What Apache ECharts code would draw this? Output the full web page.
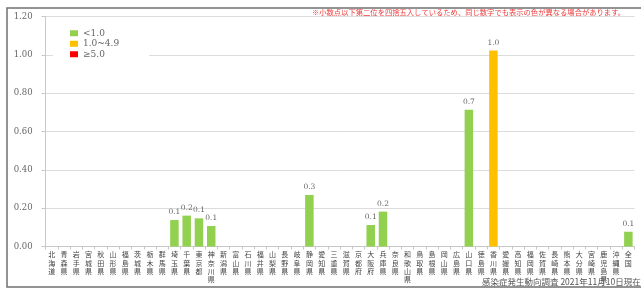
<!DOCTYPE html>
<html><head><meta charset="utf-8">
<script src="https://cdn.jsdelivr.net/npm/echarts@6/dist/echarts.min.js"></script>
<style>html,body{margin:0;padding:0;background:#fff}#c{width:641px;height:289px}</style>
</head><body><div id="c"></div>
<script>
const categories = ["北海道","青森県","岩手県","宮城県","秋田県","山形県","福島県","茨城県","栃木県","群馬県","埼玉県","千葉県","東京都","神奈川県","新潟県","富山県","石川県","福井県","山梨県","長野県","岐阜県","静岡県","愛知県","三重県","滋賀県","京都府","大阪府","兵庫県","奈良県","和歌山県","鳥取県","島根県","岡山県","広島県","山口県","徳島県","香川県","愛媛県","高知県","福岡県","佐賀県","長崎県","熊本県","大分県","宮崎県","鹿児島県","沖縄県","全国"];
const values = [0,0,0,0,0,0,0,0,0,0,0.138,0.161,0.147,0.107,0,0,0,0,0,0,0,0.269,0,0,0,0,0.112,0.182,0,0,0,0,0,0,0.713,0,1.022,0,0,0,0,0,0,0,0,0,0,0.077];
const levelNames = ["<1.0","1.0~4.9","≥5.0"];
const levelColors = ["#92D050","#FFC000","#FF0000"];
const levelMin = [0,1.0,5.0];
const levelMax = [1.0,5.0,Infinity];
const yTicks = {min:0,max:1.2,interval:0.2};
const noteText = "※小数点以下第二位を四捨五入しているため、同じ数字でも表示の色が異なる場合があります。";
const sourceText = "感染症発生動向調査 2021年11月10日現在";

const chart = echarts.init(document.getElementById('c'), null, {renderer:'canvas'});
const numFont = "'DejaVu Serif', serif";
const jpFont = "'Noto Sans CJK JP', sans-serif";
const series = levelNames.map((name,i)=>({
  name, type:'bar', barGap:'-100%', barWidth:8.5,
  itemStyle:{color:levelColors[i]},
  data: values.map(v => (v>0 && v>=levelMin[i] && v<levelMax[i]) ? v : null),
  label:{show:true, position:'top', distance:4, fontSize:7.5, color:'#666', fontFamily:numFont,
    formatter:p=>p.value==null?'':Number(p.value).toFixed(1)}
}));
chart.setOption({
  animation:false,
  backgroundColor:'#fff',
  grid:{left:45.6, right:6.5, top:16.5, bottom:42.5},
  legend:{
    data:levelNames, orient:'vertical', left:53, top:23,
    backgroundColor:'#fff', padding:[5,30,5,17],
    itemWidth:8, itemHeight:6, itemGap:0,
    icon:'rect',
    textStyle:{fontSize:9, lineHeight:10.5, color:'#666', fontFamily:numFont, padding:[0,0,0,0]}
  },
  xAxis:{
    type:'category', data:categories,
    axisLine:{lineStyle:{color:'#c8c8c8'}},
    axisTick:{show:true, length:3, lineStyle:{color:'#c8c8c8'}},
    axisLabel:{interval:0, margin:4, fontSize:7, lineHeight:8.3, color:'#444', fontFamily:jpFont,
      verticalAlign:'top',
      formatter:v=>v.split('').join('\n')}
  },
  yAxis:{
    type:'value', min:yTicks.min, max:yTicks.max, interval:yTicks.interval,
    axisLine:{show:true, lineStyle:{color:'#c8c8c8'}},
    axisTick:{show:true, length:4, lineStyle:{color:'#c8c8c8'}},
    splitLine:{lineStyle:{color:'#dcdcdc'}},
    axisLabel:{margin:13, fontSize:8.5, color:'#666', fontFamily:numFont, formatter:v=>v.toFixed(2)}
  },
  series,
  graphic:[
    {type:'rect', z:-10, silent:true, shape:{x:7, y:8, width:700, height:279},
      style:{fill:'#fff', stroke:'#707070', lineWidth:1.5}},
    {type:'text', left:'auto', right:16, top:9, style:{text:noteText, fontSize:7.3, fill:'#f03c3c', fontFamily:jpFont}},
    {type:'text', left:482, top:278, style:{text:sourceText, fontSize:8.5, fill:'#555', fontFamily:jpFont}}
  ]
});
</script></body></html>
